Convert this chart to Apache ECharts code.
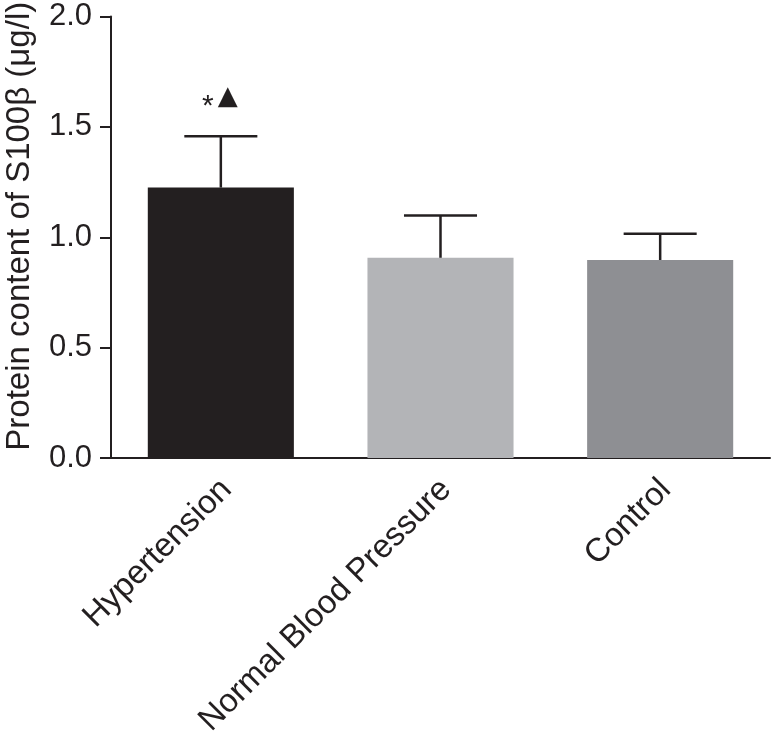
<!DOCTYPE html>
<html><head><meta charset="utf-8">
<script src="https://cdn.jsdelivr.net/npm/echarts@6/dist/echarts.min.js"></script>
<style>html,body{margin:0;padding:0;background:#fff}#c{width:773px;height:740px}</style>
</head><body><div id="c"></div>
<script>
const categories = ['Hypertension', 'Normal Blood Pressure', 'Control'];
const means = [1.225, 0.907, 0.897];
const sds = [0.232, 0.191, 0.119];
const annotationStar = ['*', '', ''];
const annotationTriangle = ['\u25B2', '', ''];
const barColors = ['#231f20', '#b3b4b7', '#8e8f93'];
const yTicks = { min: 0, max: 2, interval: 0.5 };
const yName = 'Protein content of S100\u03B2 (\u03BCg/l)';

const ink = '#231f20';
const font = '"Liberation Sans", Arial, Helvetica, sans-serif';
const chart = echarts.init(document.getElementById('c'));
chart.setOption({
  animation: false,
  grid: { left: 111, right: 3, top: 16.5, bottom: 282, containLabel: false, outerBoundsMode: 'none' },
  xAxis: {
    type: 'category', data: categories,
    axisLine: { lineStyle: { color: ink, width: 2 } },
    axisTick: { alignWithLabel: true, length: 13, lineStyle: { color: ink, width: 2 } },
    axisLabel: { rotate: 45, color: ink, fontSize: 33, fontFamily: font, margin: 21, interval: 0,
      verticalAlign: 'top', lineHeight: 16 }
  },
  yAxis: {
    type: 'value', min: yTicks.min, max: yTicks.max, interval: yTicks.interval,
    name: yName, nameLocation: 'middle', nameGap: 75, nameRotate: 90,
    nameTextStyle: { color: ink, fontSize: 33, fontFamily: font, padding: [0, 0, 0, 22] },
    splitLine: { show: false },
    axisLine: { show: true, lineStyle: { color: ink, width: 2 } },
    axisTick: { show: true, length: 11, lineStyle: { color: ink, width: 2 } },
    axisLabel: { color: ink, fontSize: 31, fontFamily: font, margin: 19,
      formatter: v => v.toFixed(1) }
  },
  series: [
    {
      type: 'bar', barCategoryGap: '33.5%',
      data: means.map((v, i) => ({ value: v, itemStyle: { color: barColors[i] } })),
      z: 2
    },
    {
      type: 'custom', z: 3,
      data: means.map((v, i) => [i, v, v + sds[i]]),
      renderItem: function (params, api) {
        const x = api.coord([api.value(0), 0])[0];
        const yb = api.coord([api.value(0), api.value(1)])[1];
        const yt = api.coord([api.value(0), api.value(2)])[1];
        const bw = api.size([1, 0])[0] * 0.665;
        const hw = bw / 4;
        const st = { stroke: ink, lineWidth: 2.5 };
        const children = [
          { type: 'line', shape: { x1: x, y1: yb, x2: x, y2: yt }, style: st },
          { type: 'line', shape: { x1: x - hw, y1: yt, x2: x + hw, y2: yt }, style: st }
        ];
        const star = annotationStar[params.dataIndex];
        const tri = annotationTriangle[params.dataIndex];
        if (star) {
          children.push({ type: 'text', x: x - 13, y: yt - 30,
            style: { text: star, fill: ink, font: '30px "Liberation Sans", Arial, sans-serif', textAlign: 'center', textVerticalAlign: 'middle' } });
        }
        if (tri) {
          children.push({ type: 'text', x: x + 7, y: yt - 39,
            style: { text: tri, fill: ink, font: '26px "DejaVu Sans", sans-serif', textAlign: 'center', textVerticalAlign: 'middle' } });
        }
        return { type: 'group', children: children };
      }
    }
  ]
});
</script></body></html>
